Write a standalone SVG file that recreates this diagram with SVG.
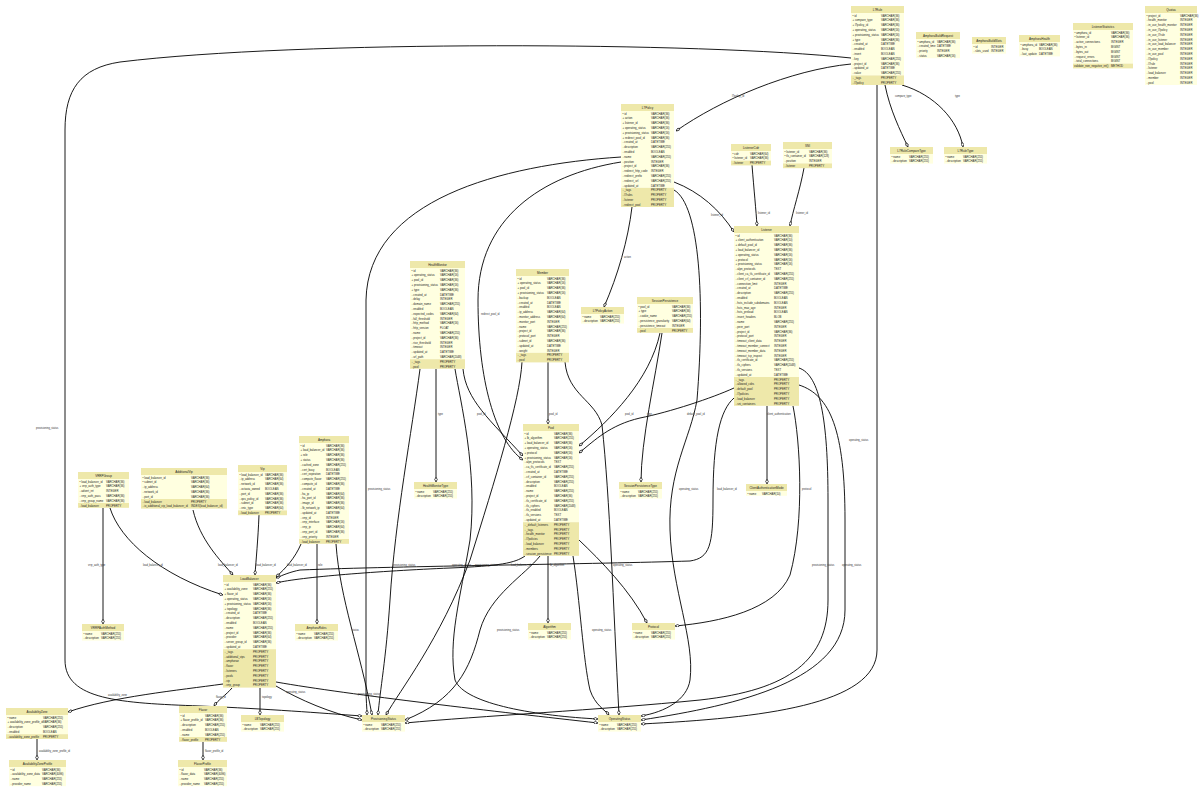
<svg xmlns="http://www.w3.org/2000/svg" width="1200" height="789" viewBox="0 0 1200 789">
<defs>
<style>
.hd{fill:#EEE8AA}
.bd{fill:#FFFFE0}
.pr{fill:#EEE8AA}
text{font-family:"Liberation Sans",Arial,sans-serif;fill:#222}
.tt{font-size:3px;text-anchor:middle}
.r{font-size:2.8px}
.lb{font-size:2.6px;fill:#333}
.e{fill:none;stroke:#000;stroke-width:0.9;marker-end:url(#m)}
</style>
<marker id="m" viewBox="0 0 6 4" refX="6" refY="2" markerWidth="5" markerHeight="3.4" markerUnits="userSpaceOnUse" orient="auto"><path d="M0.4,2 L3,0.4 L5.6,2 L3,3.6 Z" fill="#fff" stroke="#000" stroke-width="0.8"/></marker>
</defs>
<rect width="1200" height="789" fill="#fff"/>

<g id="connectors">
<path class="e" d="M851,58 C700,42 300,40 120,62 C80,68 65,90 65,130 L65,660 C65,700 120,703 200,706 C270,709 320,713 362,716"/>
<path class="e" d="M851,64 C790,70 720,100 676,131"/>
<path class="e" d="M885,85 C890,110 900,130 908,147"/>
<path class="e" d="M902,85 C935,95 958,120 963,147"/>
<path class="e" d="M877,85 L877,650 C877,705 760,718 641,724"/>
<path class="e" d="M674,182 C700,192 720,210 734,232"/>
<path class="e" d="M632,207 C628,240 618,275 604,307"/>
<path class="e" d="M621,162 C540,175 478,220 478,300 C478,380 495,440 523,460"/>
<path class="e" d="M621,157 C500,165 368,200 366,300 L366,690 C366,700 367,708 367,715"/>
<path class="e" d="M674,190 C700,205 705,300 697,400 C690,440 668,470 670,530 C672,590 695,640 690,680 C687,700 665,712 641,716"/>
<path class="e" d="M752,165 C754,190 756,210 757,226"/>
<path class="e" d="M804,168 C800,190 793,210 790,226"/>
<path class="e" d="M420,369 C412,430 395,520 390,600 C386,660 380,690 378,715"/>
<path class="e" d="M436,369 L436,482"/>
<path class="e" d="M455,369 C460,400 478,470 470,540 C460,600 448,640 455,680 C465,705 540,716 598,719"/>
<path class="e" d="M463,369 C466,400 490,420 523,456"/>
<path class="e" d="M522,362 C520,400 495,480 470,560 C440,640 400,690 386,715"/>
<path class="e" d="M548,362 L548,424"/>
<path class="e" d="M565,362 C568,395 595,400 602,425 C610,500 613,600 619,715"/>
<path class="e" d="M660,333 C650,380 610,420 579,446"/>
<path class="e" d="M662,333 C655,380 641,440 641,482"/>
<path class="e" d="M767,406 L767,484"/>
<path class="e" d="M734,388 C712,398 670,412 640,418 C610,425 595,440 579,453"/>
<path class="e" d="M734,398 C720,410 713,440 713,500 C713,545 710,558 690,561 C600,564 400,566 300,570 C290,572 283,575 276,578"/>
<path class="e" d="M793,406 C800,440 805,520 790,575 C775,610 720,622 675,626"/>
<path class="e" d="M799,368 C820,375 828,420 828,500 L828,600 C828,660 790,690 700,700 C600,710 480,716 405,723"/>
<path class="e" d="M799,385 C830,395 845,430 845,520 L845,610 C845,680 740,705 641,720"/>
<path class="e" d="M548,556 L548,623"/>
<path class="e" d="M525,556 C515,563 500,566 450,568 C380,571 300,577 276,583"/>
<path class="e" d="M573,556 C580,600 583,660 590,690 C595,705 605,710 609,715"/>
<path class="e" d="M579,540 C600,560 630,590 647,623"/>
<path class="e" d="M540,556 C525,575 490,595 480,630 C470,670 455,700 405,720"/>
<path class="e" d="M301,544 C295,558 286,568 276,577"/>
<path class="e" d="M317,544 L317,624"/>
<path class="e" d="M336,544 C340,600 360,650 372,715"/>
<path class="e" d="M259,515 C258,540 256,560 255,575"/>
<path class="e" d="M103,508 L103,624"/>
<path class="e" d="M110,508 C120,540 160,575 223,595"/>
<path class="e" d="M193,510 C200,540 220,560 233,575"/>
<path class="e" d="M223,684 C180,690 110,697 68,712"/>
<path class="e" d="M232,688 C226,695 218,700 214,706"/>
<path class="e" d="M260,688 L260,715"/>
<path class="e" d="M276,686 C300,700 330,713 362,720"/>
<path class="e" d="M276,682 C350,695 500,712 598,723"/>
<path class="e" d="M37,739 L37,760"/>
<path class="e" d="M203,742 L203,760"/>
<text class="lb" x="732" y="97">l7policy_id</text>
<text class="lb" x="895" y="97">compare_type</text>
<text class="lb" x="955" y="97">type</text>
<text class="lb" x="711" y="216">listener_id</text>
<text class="lb" x="758" y="214">listener_id</text>
<text class="lb" x="796" y="214">listener_id</text>
<text class="lb" x="624" y="258">action</text>
<text class="lb" x="36" y="429">provisioning_status</text>
<text class="lb" x="849" y="441">operating_status</text>
<text class="lb" x="481" y="315">redirect_pool_id</text>
<text class="lb" x="438" y="415">type</text>
<text class="lb" x="477" y="415">pool_id</text>
<text class="lb" x="549" y="415">pool_id</text>
<text class="lb" x="625" y="415">pool_id</text>
<text class="lb" x="647" y="415">type</text>
<text class="lb" x="687" y="415">default_pool_id</text>
<text class="lb" x="767" y="415">client_authentication</text>
<text class="lb" x="368" y="490">provisioning_status</text>
<text class="lb" x="679" y="490">operating_status</text>
<text class="lb" x="717" y="490">load_balancer_id</text>
<text class="lb" x="802" y="490">protocol</text>
<text class="lb" x="88" y="566">vrrp_auth_type</text>
<text class="lb" x="143" y="566">load_balancer_id</text>
<text class="lb" x="218" y="566">load_balancer_id</text>
<text class="lb" x="256" y="566">load_balancer_id</text>
<text class="lb" x="287" y="566">load_balancer_id</text>
<text class="lb" x="318" y="566">role</text>
<text class="lb" x="393" y="566">provisioning_status</text>
<text class="lb" x="452" y="566">operating_status</text>
<text class="lb" x="475" y="566">provisioning_status</text>
<text class="lb" x="511" y="566">load_balancer_id</text>
<text class="lb" x="550" y="566">lb_algorithm</text>
<text class="lb" x="613" y="566">operating_status</text>
<text class="lb" x="812" y="566">provisioning_status</text>
<text class="lb" x="842" y="566">operating_status</text>
<text class="lb" x="352" y="631">status</text>
<text class="lb" x="497" y="631">provisioning_status</text>
<text class="lb" x="592" y="631">operating_status</text>
<text class="lb" x="108" y="696">availability_zone</text>
<text class="lb" x="216" y="698">flavor_id</text>
<text class="lb" x="262" y="698">topology</text>
<text class="lb" x="286" y="693">operating_status</text>
<text class="lb" x="358" y="695">provisioning_status</text>
<text class="lb" x="39" y="752">availability_zone_profile_id</text>
<text class="lb" x="205" y="752">flavor_profile_id</text>
</g>

<g id="L7Rule" transform="translate(851,6)">
<rect class="hd" width="53" height="7"/><rect class="bd" y="7" width="53" height="62.4"/><rect class="pr" y="69.4" width="53" height="9.6"/>
<text class="tt" x="26.5" y="4.9">L7Rule</text>
<text class="r" y="10.6"><tspan x="1.5">• id</tspan><tspan x="30">VARCHAR(36)</tspan></text>
<text class="r" y="15.4"><tspan x="1.5">+ compare_type</tspan><tspan x="30">VARCHAR(36)</tspan></text>
<text class="r" y="20.2"><tspan x="1.5">+ l7policy_id</tspan><tspan x="30">VARCHAR(36)</tspan></text>
<text class="r" y="25"><tspan x="1.5">+ operating_status</tspan><tspan x="30">VARCHAR(16)</tspan></text>
<text class="r" y="29.8"><tspan x="1.5">+ provisioning_status</tspan><tspan x="30">VARCHAR(16)</tspan></text>
<text class="r" y="34.6"><tspan x="1.5">+ type</tspan><tspan x="30">VARCHAR(36)</tspan></text>
<text class="r" y="39.4"><tspan x="1.5">◦ created_at</tspan><tspan x="30">DATETIME</tspan></text>
<text class="r" y="44.2"><tspan x="1.5">◦ enabled</tspan><tspan x="30">BOOLEAN</tspan></text>
<text class="r" y="49"><tspan x="1.5">◦ invert</tspan><tspan x="30">BOOLEAN</tspan></text>
<text class="r" y="53.8"><tspan x="1.5">◦ key</tspan><tspan x="30">VARCHAR(255)</tspan></text>
<text class="r" y="58.6"><tspan x="1.5">◦ project_id</tspan><tspan x="30">VARCHAR(36)</tspan></text>
<text class="r" y="63.4"><tspan x="1.5">◦ updated_at</tspan><tspan x="30">DATETIME</tspan></text>
<text class="r" y="68.2"><tspan x="1.5">◦ value</tspan><tspan x="30">VARCHAR(255)</tspan></text>
<text class="r" y="73"><tspan x="1.5">◦ _tags</tspan><tspan x="30">PROPERTY</tspan></text>
<text class="r" y="77.8"><tspan x="1.5">◦ l7policy</tspan><tspan x="30">PROPERTY</tspan></text>
</g>

<g id="AmphoraBuildRequest" transform="translate(916,32)">
<rect class="hd" width="44" height="7"/><rect class="bd" y="7" width="44" height="19.2"/>
<text class="tt" x="22" y="4.9">AmphoraBuildRequest</text>
<text class="r" y="10.6"><tspan x="1.5">• amphora_id</tspan><tspan x="21">VARCHAR(36)</tspan></text>
<text class="r" y="15.4"><tspan x="1.5">◦ created_time</tspan><tspan x="21">DATETIME</tspan></text>
<text class="r" y="20.2"><tspan x="1.5">◦ priority</tspan><tspan x="21">INTEGER</tspan></text>
<text class="r" y="25"><tspan x="1.5">◦ status</tspan><tspan x="21">VARCHAR(16)</tspan></text>
</g>

<g id="AmphoraBuildSlots" transform="translate(972,37)">
<rect class="hd" width="34" height="7"/><rect class="bd" y="7" width="34" height="9.6"/>
<text class="tt" x="17" y="4.9">AmphoraBuildSlots</text>
<text class="r" y="10.6"><tspan x="1.5">• id</tspan><tspan x="19">INTEGER</tspan></text>
<text class="r" y="15.4"><tspan x="1.5">◦ slots_used</tspan><tspan x="19">INTEGER</tspan></text>
</g>

<g id="AmphoraHealth" transform="translate(1019,35)">
<rect class="hd" width="41" height="7"/><rect class="bd" y="7" width="41" height="14.4"/>
<text class="tt" x="20.5" y="4.9">AmphoraHealth</text>
<text class="r" y="10.6"><tspan x="1.5">• amphora_id</tspan><tspan x="20">VARCHAR(36)</tspan></text>
<text class="r" y="15.4"><tspan x="1.5">◦ busy</tspan><tspan x="20">BOOLEAN</tspan></text>
<text class="r" y="20.2"><tspan x="1.5">◦ last_update</tspan><tspan x="20">DATETIME</tspan></text>
</g>

<g id="ListenerStatistics" transform="translate(1073,23)">
<rect class="hd" width="60" height="7"/><rect class="bd" y="7" width="60" height="33.6"/><rect class="pr" y="40.6" width="60" height="4.8"/>
<text class="tt" x="30" y="4.9">ListenerStatistics</text>
<text class="r" y="10.6"><tspan x="1.5">• amphora_id</tspan><tspan x="38">VARCHAR(36)</tspan></text>
<text class="r" y="15.4"><tspan x="1.5">• listener_id</tspan><tspan x="38">VARCHAR(36)</tspan></text>
<text class="r" y="20.2"><tspan x="1.5">◦ active_connections</tspan><tspan x="38">INTEGER</tspan></text>
<text class="r" y="25"><tspan x="1.5">◦ bytes_in</tspan><tspan x="38">BIGINT</tspan></text>
<text class="r" y="29.8"><tspan x="1.5">◦ bytes_out</tspan><tspan x="38">BIGINT</tspan></text>
<text class="r" y="34.6"><tspan x="1.5">◦ request_errors</tspan><tspan x="38">BIGINT</tspan></text>
<text class="r" y="39.4"><tspan x="1.5">◦ total_connections</tspan><tspan x="38">BIGINT</tspan></text>
<text class="r" y="44.2"><tspan x="1">validate_non_negative_int()</tspan><tspan x="38">METHOD</tspan></text>
</g>

<g id="Quotas" transform="translate(1145,6)">
<rect class="hd" width="52" height="7"/><rect class="bd" y="7" width="52" height="72"/>
<text class="tt" x="26" y="4.9">Quotas</text>
<text class="r" y="10.6"><tspan x="1.5">• project_id</tspan><tspan x="35">VARCHAR(36)</tspan></text>
<text class="r" y="15.4"><tspan x="1.5">◦ health_monitor</tspan><tspan x="35">INTEGER</tspan></text>
<text class="r" y="20.2"><tspan x="1.5">◦ in_use_health_monitor</tspan><tspan x="35">INTEGER</tspan></text>
<text class="r" y="25"><tspan x="1.5">◦ in_use_l7policy</tspan><tspan x="35">INTEGER</tspan></text>
<text class="r" y="29.8"><tspan x="1.5">◦ in_use_l7rule</tspan><tspan x="35">INTEGER</tspan></text>
<text class="r" y="34.6"><tspan x="1.5">◦ in_use_listener</tspan><tspan x="35">INTEGER</tspan></text>
<text class="r" y="39.4"><tspan x="1.5">◦ in_use_load_balancer</tspan><tspan x="35">INTEGER</tspan></text>
<text class="r" y="44.2"><tspan x="1.5">◦ in_use_member</tspan><tspan x="35">INTEGER</tspan></text>
<text class="r" y="49"><tspan x="1.5">◦ in_use_pool</tspan><tspan x="35">INTEGER</tspan></text>
<text class="r" y="53.8"><tspan x="1.5">◦ l7policy</tspan><tspan x="35">INTEGER</tspan></text>
<text class="r" y="58.6"><tspan x="1.5">◦ l7rule</tspan><tspan x="35">INTEGER</tspan></text>
<text class="r" y="63.4"><tspan x="1.5">◦ listener</tspan><tspan x="35">INTEGER</tspan></text>
<text class="r" y="68.2"><tspan x="1.5">◦ load_balancer</tspan><tspan x="35">INTEGER</tspan></text>
<text class="r" y="73"><tspan x="1.5">◦ member</tspan><tspan x="35">INTEGER</tspan></text>
<text class="r" y="77.8"><tspan x="1.5">◦ pool</tspan><tspan x="35">INTEGER</tspan></text>
</g>

<g id="L7Policy" transform="translate(621,104)">
<rect class="hd" width="53" height="7"/><rect class="bd" y="7" width="53" height="76.8"/><rect class="pr" y="83.8" width="53" height="19.2"/>
<text class="tt" x="26.5" y="4.9">L7Policy</text>
<text class="r" y="10.6"><tspan x="1.5">• id</tspan><tspan x="30">VARCHAR(36)</tspan></text>
<text class="r" y="15.4"><tspan x="1.5">+ action</tspan><tspan x="30">VARCHAR(36)</tspan></text>
<text class="r" y="20.2"><tspan x="1.5">+ listener_id</tspan><tspan x="30">VARCHAR(36)</tspan></text>
<text class="r" y="25"><tspan x="1.5">+ operating_status</tspan><tspan x="30">VARCHAR(16)</tspan></text>
<text class="r" y="29.8"><tspan x="1.5">+ provisioning_status</tspan><tspan x="30">VARCHAR(16)</tspan></text>
<text class="r" y="34.6"><tspan x="1.5">+ redirect_pool_id</tspan><tspan x="30">VARCHAR(36)</tspan></text>
<text class="r" y="39.4"><tspan x="1.5">◦ created_at</tspan><tspan x="30">DATETIME</tspan></text>
<text class="r" y="44.2"><tspan x="1.5">◦ description</tspan><tspan x="30">VARCHAR(255)</tspan></text>
<text class="r" y="49"><tspan x="1.5">◦ enabled</tspan><tspan x="30">BOOLEAN</tspan></text>
<text class="r" y="53.8"><tspan x="1.5">◦ name</tspan><tspan x="30">VARCHAR(255)</tspan></text>
<text class="r" y="58.6"><tspan x="1.5">◦ position</tspan><tspan x="30">INTEGER</tspan></text>
<text class="r" y="63.4"><tspan x="1.5">◦ project_id</tspan><tspan x="30">VARCHAR(36)</tspan></text>
<text class="r" y="68.2"><tspan x="1.5">◦ redirect_http_code</tspan><tspan x="30">INTEGER</tspan></text>
<text class="r" y="73"><tspan x="1.5">◦ redirect_prefix</tspan><tspan x="30">VARCHAR(255)</tspan></text>
<text class="r" y="77.8"><tspan x="1.5">◦ redirect_url</tspan><tspan x="30">VARCHAR(255)</tspan></text>
<text class="r" y="82.6"><tspan x="1.5">◦ updated_at</tspan><tspan x="30">DATETIME</tspan></text>
<text class="r" y="87.4"><tspan x="1.5">◦ _tags</tspan><tspan x="30">PROPERTY</tspan></text>
<text class="r" y="92.2"><tspan x="1.5">◦ l7rules</tspan><tspan x="30">PROPERTY</tspan></text>
<text class="r" y="97"><tspan x="1.5">◦ listener</tspan><tspan x="30">PROPERTY</tspan></text>
<text class="r" y="101.8"><tspan x="1.5">◦ redirect_pool</tspan><tspan x="30">PROPERTY</tspan></text>
</g>

<g id="ListenerCidr" transform="translate(731,144)">
<rect class="hd" width="40" height="7"/><rect class="bd" y="7" width="40" height="9.6"/><rect class="pr" y="16.6" width="40" height="4.8"/>
<text class="tt" x="20" y="4.9">ListenerCidr</text>
<text class="r" y="10.6"><tspan x="1.5">• cidr</tspan><tspan x="19">VARCHAR(64)</tspan></text>
<text class="r" y="15.4"><tspan x="1.5">• listener_id</tspan><tspan x="19">VARCHAR(36)</tspan></text>
<text class="r" y="20.2"><tspan x="1.5">◦ listener</tspan><tspan x="19">PROPERTY</tspan></text>
</g>

<g id="SNI" transform="translate(783,142)">
<rect class="hd" width="49" height="7"/><rect class="bd" y="7" width="49" height="14.4"/><rect class="pr" y="21.4" width="49" height="4.8"/>
<text class="tt" x="24.5" y="4.9">SNI</text>
<text class="r" y="10.6"><tspan x="1.5">• listener_id</tspan><tspan x="26">VARCHAR(36)</tspan></text>
<text class="r" y="15.4"><tspan x="1.5">• tls_container_id</tspan><tspan x="26">VARCHAR(128)</tspan></text>
<text class="r" y="20.2"><tspan x="1.5">◦ position</tspan><tspan x="26">INTEGER</tspan></text>
<text class="r" y="25"><tspan x="1.5">◦ listener</tspan><tspan x="26">PROPERTY</tspan></text>
</g>

<g id="L7RuleCompareType" transform="translate(890,147)">
<rect class="hd" width="43" height="7"/><rect class="bd" y="7" width="43" height="9.6"/>
<text class="tt" x="21.5" y="4.9">L7RuleCompareType</text>
<text class="r" y="10.6"><tspan x="1.5">• name</tspan><tspan x="19">VARCHAR(255)</tspan></text>
<text class="r" y="15.4"><tspan x="1.5">◦ description</tspan><tspan x="19">VARCHAR(255)</tspan></text>
</g>

<g id="L7RuleType" transform="translate(944,147)">
<rect class="hd" width="43" height="7"/><rect class="bd" y="7" width="43" height="9.6"/>
<text class="tt" x="21.5" y="4.9">L7RuleType</text>
<text class="r" y="10.6"><tspan x="1.5">• name</tspan><tspan x="19">VARCHAR(255)</tspan></text>
<text class="r" y="15.4"><tspan x="1.5">◦ description</tspan><tspan x="19">VARCHAR(255)</tspan></text>
</g>

<g id="HealthMonitor" transform="translate(410,261)">
<rect class="hd" width="55" height="7"/><rect class="bd" y="7" width="55" height="91.2"/><rect class="pr" y="98.2" width="55" height="9.6"/>
<text class="tt" x="27.5" y="4.9">HealthMonitor</text>
<text class="r" y="10.6"><tspan x="1.5">• id</tspan><tspan x="30">VARCHAR(36)</tspan></text>
<text class="r" y="15.4"><tspan x="1.5">+ operating_status</tspan><tspan x="30">VARCHAR(16)</tspan></text>
<text class="r" y="20.2"><tspan x="1.5">+ pool_id</tspan><tspan x="30">VARCHAR(36)</tspan></text>
<text class="r" y="25"><tspan x="1.5">+ provisioning_status</tspan><tspan x="30">VARCHAR(16)</tspan></text>
<text class="r" y="29.8"><tspan x="1.5">+ type</tspan><tspan x="30">VARCHAR(36)</tspan></text>
<text class="r" y="34.6"><tspan x="1.5">◦ created_at</tspan><tspan x="30">DATETIME</tspan></text>
<text class="r" y="39.4"><tspan x="1.5">◦ delay</tspan><tspan x="30">INTEGER</tspan></text>
<text class="r" y="44.2"><tspan x="1.5">◦ domain_name</tspan><tspan x="30">VARCHAR(255)</tspan></text>
<text class="r" y="49"><tspan x="1.5">◦ enabled</tspan><tspan x="30">BOOLEAN</tspan></text>
<text class="r" y="53.8"><tspan x="1.5">◦ expected_codes</tspan><tspan x="30">VARCHAR(64)</tspan></text>
<text class="r" y="58.6"><tspan x="1.5">◦ fall_threshold</tspan><tspan x="30">INTEGER</tspan></text>
<text class="r" y="63.4"><tspan x="1.5">◦ http_method</tspan><tspan x="30">VARCHAR(16)</tspan></text>
<text class="r" y="68.2"><tspan x="1.5">◦ http_version</tspan><tspan x="30">FLOAT</tspan></text>
<text class="r" y="73"><tspan x="1.5">◦ name</tspan><tspan x="30">VARCHAR(255)</tspan></text>
<text class="r" y="77.8"><tspan x="1.5">◦ project_id</tspan><tspan x="30">VARCHAR(36)</tspan></text>
<text class="r" y="82.6"><tspan x="1.5">◦ rise_threshold</tspan><tspan x="30">INTEGER</tspan></text>
<text class="r" y="87.4"><tspan x="1.5">◦ timeout</tspan><tspan x="30">INTEGER</tspan></text>
<text class="r" y="92.2"><tspan x="1.5">◦ updated_at</tspan><tspan x="30">DATETIME</tspan></text>
<text class="r" y="97"><tspan x="1.5">◦ url_path</tspan><tspan x="30">VARCHAR(2048)</tspan></text>
<text class="r" y="101.8"><tspan x="1.5">◦ _tags</tspan><tspan x="30">PROPERTY</tspan></text>
<text class="r" y="106.6"><tspan x="1.5">◦ pool</tspan><tspan x="30">PROPERTY</tspan></text>
</g>

<g id="Member" transform="translate(516,269)">
<rect class="hd" width="53" height="7"/><rect class="bd" y="7" width="53" height="76.8"/><rect class="pr" y="83.8" width="53" height="9.6"/>
<text class="tt" x="26.5" y="4.9">Member</text>
<text class="r" y="10.6"><tspan x="1.5">• id</tspan><tspan x="31">VARCHAR(36)</tspan></text>
<text class="r" y="15.4"><tspan x="1.5">+ operating_status</tspan><tspan x="31">VARCHAR(16)</tspan></text>
<text class="r" y="20.2"><tspan x="1.5">+ pool_id</tspan><tspan x="31">VARCHAR(36)</tspan></text>
<text class="r" y="25"><tspan x="1.5">+ provisioning_status</tspan><tspan x="31">VARCHAR(16)</tspan></text>
<text class="r" y="29.8"><tspan x="1.5">◦ backup</tspan><tspan x="31">BOOLEAN</tspan></text>
<text class="r" y="34.6"><tspan x="1.5">◦ created_at</tspan><tspan x="31">DATETIME</tspan></text>
<text class="r" y="39.4"><tspan x="1.5">◦ enabled</tspan><tspan x="31">BOOLEAN</tspan></text>
<text class="r" y="44.2"><tspan x="1.5">◦ ip_address</tspan><tspan x="31">VARCHAR(64)</tspan></text>
<text class="r" y="49"><tspan x="1.5">◦ monitor_address</tspan><tspan x="31">VARCHAR(64)</tspan></text>
<text class="r" y="53.8"><tspan x="1.5">◦ monitor_port</tspan><tspan x="31">INTEGER</tspan></text>
<text class="r" y="58.6"><tspan x="1.5">◦ name</tspan><tspan x="31">VARCHAR(255)</tspan></text>
<text class="r" y="63.4"><tspan x="1.5">◦ project_id</tspan><tspan x="31">VARCHAR(36)</tspan></text>
<text class="r" y="68.2"><tspan x="1.5">◦ protocol_port</tspan><tspan x="31">INTEGER</tspan></text>
<text class="r" y="73"><tspan x="1.5">◦ subnet_id</tspan><tspan x="31">VARCHAR(36)</tspan></text>
<text class="r" y="77.8"><tspan x="1.5">◦ updated_at</tspan><tspan x="31">DATETIME</tspan></text>
<text class="r" y="82.6"><tspan x="1.5">◦ weight</tspan><tspan x="31">INTEGER</tspan></text>
<text class="r" y="87.4"><tspan x="1.5">◦ _tags</tspan><tspan x="31">PROPERTY</tspan></text>
<text class="r" y="92.2"><tspan x="1.5">◦ pool</tspan><tspan x="31">PROPERTY</tspan></text>
</g>

<g id="L7PolicyAction" transform="translate(581,307)">
<rect class="hd" width="43" height="7"/><rect class="bd" y="7" width="43" height="9.6"/>
<text class="tt" x="21.5" y="4.9">L7PolicyAction</text>
<text class="r" y="10.6"><tspan x="1.5">• name</tspan><tspan x="19">VARCHAR(255)</tspan></text>
<text class="r" y="15.4"><tspan x="1.5">◦ description</tspan><tspan x="19">VARCHAR(255)</tspan></text>
</g>

<g id="SessionPersistence" transform="translate(637,297)">
<rect class="hd" width="56" height="7"/><rect class="bd" y="7" width="56" height="24"/><rect class="pr" y="31" width="56" height="4.8"/>
<text class="tt" x="28" y="4.9">SessionPersistence</text>
<text class="r" y="10.6"><tspan x="1.5">• pool_id</tspan><tspan x="35">VARCHAR(36)</tspan></text>
<text class="r" y="15.4"><tspan x="1.5">+ type</tspan><tspan x="35">VARCHAR(36)</tspan></text>
<text class="r" y="20.2"><tspan x="1.5">◦ cookie_name</tspan><tspan x="35">VARCHAR(255)</tspan></text>
<text class="r" y="25"><tspan x="1.5">◦ persistence_granularity</tspan><tspan x="35">VARCHAR(64)</tspan></text>
<text class="r" y="29.8"><tspan x="1.5">◦ persistence_timeout</tspan><tspan x="35">INTEGER</tspan></text>
<text class="r" y="34.6"><tspan x="1.5">◦ pool</tspan><tspan x="35">PROPERTY</tspan></text>
</g>

<g id="Listener" transform="translate(734,226)">
<rect class="hd" width="65" height="7"/><rect class="bd" y="7" width="65" height="144"/><rect class="pr" y="151" width="65" height="28.8"/>
<text class="tt" x="32.5" y="4.9">Listener</text>
<text class="r" y="10.6"><tspan x="1.5">• id</tspan><tspan x="40">VARCHAR(36)</tspan></text>
<text class="r" y="15.4"><tspan x="1.5">+ client_authentication</tspan><tspan x="40">VARCHAR(10)</tspan></text>
<text class="r" y="20.2"><tspan x="1.5">+ default_pool_id</tspan><tspan x="40">VARCHAR(36)</tspan></text>
<text class="r" y="25"><tspan x="1.5">+ load_balancer_id</tspan><tspan x="40">VARCHAR(36)</tspan></text>
<text class="r" y="29.8"><tspan x="1.5">+ operating_status</tspan><tspan x="40">VARCHAR(16)</tspan></text>
<text class="r" y="34.6"><tspan x="1.5">+ protocol</tspan><tspan x="40">VARCHAR(16)</tspan></text>
<text class="r" y="39.4"><tspan x="1.5">+ provisioning_status</tspan><tspan x="40">VARCHAR(16)</tspan></text>
<text class="r" y="44.2"><tspan x="1.5">◦ alpn_protocols</tspan><tspan x="40">TEXT</tspan></text>
<text class="r" y="49"><tspan x="1.5">◦ client_ca_tls_certificate_id</tspan><tspan x="40">VARCHAR(255)</tspan></text>
<text class="r" y="53.8"><tspan x="1.5">◦ client_crl_container_id</tspan><tspan x="40">VARCHAR(255)</tspan></text>
<text class="r" y="58.6"><tspan x="1.5">◦ connection_limit</tspan><tspan x="40">INTEGER</tspan></text>
<text class="r" y="63.4"><tspan x="1.5">◦ created_at</tspan><tspan x="40">DATETIME</tspan></text>
<text class="r" y="68.2"><tspan x="1.5">◦ description</tspan><tspan x="40">VARCHAR(255)</tspan></text>
<text class="r" y="73"><tspan x="1.5">◦ enabled</tspan><tspan x="40">BOOLEAN</tspan></text>
<text class="r" y="77.8"><tspan x="1.5">◦ hsts_include_subdomains</tspan><tspan x="40">BOOLEAN</tspan></text>
<text class="r" y="82.6"><tspan x="1.5">◦ hsts_max_age</tspan><tspan x="40">INTEGER</tspan></text>
<text class="r" y="87.4"><tspan x="1.5">◦ hsts_preload</tspan><tspan x="40">BOOLEAN</tspan></text>
<text class="r" y="92.2"><tspan x="1.5">◦ insert_headers</tspan><tspan x="40">BLOB</tspan></text>
<text class="r" y="97"><tspan x="1.5">◦ name</tspan><tspan x="40">VARCHAR(255)</tspan></text>
<text class="r" y="101.8"><tspan x="1.5">◦ peer_port</tspan><tspan x="40">INTEGER</tspan></text>
<text class="r" y="106.6"><tspan x="1.5">◦ project_id</tspan><tspan x="40">VARCHAR(36)</tspan></text>
<text class="r" y="111.4"><tspan x="1.5">◦ protocol_port</tspan><tspan x="40">INTEGER</tspan></text>
<text class="r" y="116.2"><tspan x="1.5">◦ timeout_client_data</tspan><tspan x="40">INTEGER</tspan></text>
<text class="r" y="121"><tspan x="1.5">◦ timeout_member_connect</tspan><tspan x="40">INTEGER</tspan></text>
<text class="r" y="125.8"><tspan x="1.5">◦ timeout_member_data</tspan><tspan x="40">INTEGER</tspan></text>
<text class="r" y="130.6"><tspan x="1.5">◦ timeout_tcp_inspect</tspan><tspan x="40">INTEGER</tspan></text>
<text class="r" y="135.4"><tspan x="1.5">◦ tls_certificate_id</tspan><tspan x="40">VARCHAR(255)</tspan></text>
<text class="r" y="140.2"><tspan x="1.5">◦ tls_ciphers</tspan><tspan x="40">VARCHAR(2048)</tspan></text>
<text class="r" y="145"><tspan x="1.5">◦ tls_versions</tspan><tspan x="40">TEXT</tspan></text>
<text class="r" y="149.8"><tspan x="1.5">◦ updated_at</tspan><tspan x="40">DATETIME</tspan></text>
<text class="r" y="154.6"><tspan x="1.5">◦ _tags</tspan><tspan x="40">PROPERTY</tspan></text>
<text class="r" y="159.4"><tspan x="1.5">◦ allowed_cidrs</tspan><tspan x="40">PROPERTY</tspan></text>
<text class="r" y="164.2"><tspan x="1.5">◦ default_pool</tspan><tspan x="40">PROPERTY</tspan></text>
<text class="r" y="169"><tspan x="1.5">◦ l7policies</tspan><tspan x="40">PROPERTY</tspan></text>
<text class="r" y="173.8"><tspan x="1.5">◦ load_balancer</tspan><tspan x="40">PROPERTY</tspan></text>
<text class="r" y="178.6"><tspan x="1.5">◦ sni_containers</tspan><tspan x="40">PROPERTY</tspan></text>
</g>

<g id="Pool" transform="translate(523,424)">
<rect class="hd" width="56" height="7"/><rect class="bd" y="7" width="56" height="91.2"/><rect class="pr" y="98.2" width="56" height="33.6"/>
<text class="tt" x="28" y="4.9">Pool</text>
<text class="r" y="10.6"><tspan x="1.5">• id</tspan><tspan x="31">VARCHAR(36)</tspan></text>
<text class="r" y="15.4"><tspan x="1.5">+ lb_algorithm</tspan><tspan x="31">VARCHAR(255)</tspan></text>
<text class="r" y="20.2"><tspan x="1.5">+ load_balancer_id</tspan><tspan x="31">VARCHAR(36)</tspan></text>
<text class="r" y="25"><tspan x="1.5">+ operating_status</tspan><tspan x="31">VARCHAR(16)</tspan></text>
<text class="r" y="29.8"><tspan x="1.5">+ protocol</tspan><tspan x="31">VARCHAR(16)</tspan></text>
<text class="r" y="34.6"><tspan x="1.5">+ provisioning_status</tspan><tspan x="31">VARCHAR(16)</tspan></text>
<text class="r" y="39.4"><tspan x="1.5">◦ alpn_protocols</tspan><tspan x="31">TEXT</tspan></text>
<text class="r" y="44.2"><tspan x="1.5">◦ ca_tls_certificate_id</tspan><tspan x="31">VARCHAR(255)</tspan></text>
<text class="r" y="49"><tspan x="1.5">◦ created_at</tspan><tspan x="31">DATETIME</tspan></text>
<text class="r" y="53.8"><tspan x="1.5">◦ crl_container_id</tspan><tspan x="31">VARCHAR(255)</tspan></text>
<text class="r" y="58.6"><tspan x="1.5">◦ description</tspan><tspan x="31">VARCHAR(255)</tspan></text>
<text class="r" y="63.4"><tspan x="1.5">◦ enabled</tspan><tspan x="31">BOOLEAN</tspan></text>
<text class="r" y="68.2"><tspan x="1.5">◦ name</tspan><tspan x="31">VARCHAR(255)</tspan></text>
<text class="r" y="73"><tspan x="1.5">◦ project_id</tspan><tspan x="31">VARCHAR(36)</tspan></text>
<text class="r" y="77.8"><tspan x="1.5">◦ tls_certificate_id</tspan><tspan x="31">VARCHAR(255)</tspan></text>
<text class="r" y="82.6"><tspan x="1.5">◦ tls_ciphers</tspan><tspan x="31">VARCHAR(2048)</tspan></text>
<text class="r" y="87.4"><tspan x="1.5">◦ tls_enabled</tspan><tspan x="31">BOOLEAN</tspan></text>
<text class="r" y="92.2"><tspan x="1.5">◦ tls_versions</tspan><tspan x="31">TEXT</tspan></text>
<text class="r" y="97"><tspan x="1.5">◦ updated_at</tspan><tspan x="31">DATETIME</tspan></text>
<text class="r" y="101.8"><tspan x="1.5">◦ _default_listeners</tspan><tspan x="31">PROPERTY</tspan></text>
<text class="r" y="106.6"><tspan x="1.5">◦ _tags</tspan><tspan x="31">PROPERTY</tspan></text>
<text class="r" y="111.4"><tspan x="1.5">◦ health_monitor</tspan><tspan x="31">PROPERTY</tspan></text>
<text class="r" y="116.2"><tspan x="1.5">◦ l7policies</tspan><tspan x="31">PROPERTY</tspan></text>
<text class="r" y="121"><tspan x="1.5">◦ load_balancer</tspan><tspan x="31">PROPERTY</tspan></text>
<text class="r" y="125.8"><tspan x="1.5">◦ members</tspan><tspan x="31">PROPERTY</tspan></text>
<text class="r" y="130.6"><tspan x="1.5">◦ session_persistence</tspan><tspan x="31">PROPERTY</tspan></text>
</g>

<g id="Amphora" transform="translate(299,436)">
<rect class="hd" width="50" height="7"/><rect class="bd" y="7" width="50" height="96"/><rect class="pr" y="103" width="50" height="4.8"/>
<text class="tt" x="25" y="4.9">Amphora</text>
<text class="r" y="10.6"><tspan x="1.5">• id</tspan><tspan x="27">VARCHAR(36)</tspan></text>
<text class="r" y="15.4"><tspan x="1.5">+ load_balancer_id</tspan><tspan x="27">VARCHAR(36)</tspan></text>
<text class="r" y="20.2"><tspan x="1.5">+ role</tspan><tspan x="27">VARCHAR(36)</tspan></text>
<text class="r" y="25"><tspan x="1.5">+ status</tspan><tspan x="27">VARCHAR(36)</tspan></text>
<text class="r" y="29.8"><tspan x="1.5">◦ cached_zone</tspan><tspan x="27">VARCHAR(255)</tspan></text>
<text class="r" y="34.6"><tspan x="1.5">◦ cert_busy</tspan><tspan x="27">BOOLEAN</tspan></text>
<text class="r" y="39.4"><tspan x="1.5">◦ cert_expiration</tspan><tspan x="27">DATETIME</tspan></text>
<text class="r" y="44.2"><tspan x="1.5">◦ compute_flavor</tspan><tspan x="27">VARCHAR(255)</tspan></text>
<text class="r" y="49"><tspan x="1.5">◦ compute_id</tspan><tspan x="27">VARCHAR(36)</tspan></text>
<text class="r" y="53.8"><tspan x="1.5">◦ created_at</tspan><tspan x="27">DATETIME</tspan></text>
<text class="r" y="58.6"><tspan x="1.5">◦ ha_ip</tspan><tspan x="27">VARCHAR(64)</tspan></text>
<text class="r" y="63.4"><tspan x="1.5">◦ ha_port_id</tspan><tspan x="27">VARCHAR(36)</tspan></text>
<text class="r" y="68.2"><tspan x="1.5">◦ image_id</tspan><tspan x="27">VARCHAR(36)</tspan></text>
<text class="r" y="73"><tspan x="1.5">◦ lb_network_ip</tspan><tspan x="27">VARCHAR(64)</tspan></text>
<text class="r" y="77.8"><tspan x="1.5">◦ updated_at</tspan><tspan x="27">DATETIME</tspan></text>
<text class="r" y="82.6"><tspan x="1.5">◦ vrrp_id</tspan><tspan x="27">INTEGER</tspan></text>
<text class="r" y="87.4"><tspan x="1.5">◦ vrrp_interface</tspan><tspan x="27">VARCHAR(16)</tspan></text>
<text class="r" y="92.2"><tspan x="1.5">◦ vrrp_ip</tspan><tspan x="27">VARCHAR(64)</tspan></text>
<text class="r" y="97"><tspan x="1.5">◦ vrrp_port_id</tspan><tspan x="27">VARCHAR(36)</tspan></text>
<text class="r" y="101.8"><tspan x="1.5">◦ vrrp_priority</tspan><tspan x="27">INTEGER</tspan></text>
<text class="r" y="106.6"><tspan x="1.5">◦ load_balancer</tspan><tspan x="27">PROPERTY</tspan></text>
</g>

<g id="Vip" transform="translate(238,465)">
<rect class="hd" width="49" height="7"/><rect class="bd" y="7" width="49" height="38.4"/><rect class="pr" y="45.4" width="49" height="4.8"/>
<text class="tt" x="24.5" y="4.9">Vip</text>
<text class="r" y="10.6"><tspan x="1.5">• load_balancer_id</tspan><tspan x="27">VARCHAR(36)</tspan></text>
<text class="r" y="15.4"><tspan x="1.5">◦ ip_address</tspan><tspan x="27">VARCHAR(64)</tspan></text>
<text class="r" y="20.2"><tspan x="1.5">◦ network_id</tspan><tspan x="27">VARCHAR(36)</tspan></text>
<text class="r" y="25"><tspan x="1.5">◦ octavia_owned</tspan><tspan x="27">BOOLEAN</tspan></text>
<text class="r" y="29.8"><tspan x="1.5">◦ port_id</tspan><tspan x="27">VARCHAR(36)</tspan></text>
<text class="r" y="34.6"><tspan x="1.5">◦ qos_policy_id</tspan><tspan x="27">VARCHAR(36)</tspan></text>
<text class="r" y="39.4"><tspan x="1.5">◦ subnet_id</tspan><tspan x="27">VARCHAR(36)</tspan></text>
<text class="r" y="44.2"><tspan x="1.5">◦ vnic_type</tspan><tspan x="27">VARCHAR(64)</tspan></text>
<text class="r" y="49"><tspan x="1.5">◦ load_balancer</tspan><tspan x="27">PROPERTY</tspan></text>
</g>

<g id="HealthMonitorType" transform="translate(414,482)">
<rect class="hd" width="43" height="7"/><rect class="bd" y="7" width="43" height="9.6"/>
<text class="tt" x="21.5" y="4.9">HealthMonitorType</text>
<text class="r" y="10.6"><tspan x="1.5">• name</tspan><tspan x="19">VARCHAR(255)</tspan></text>
<text class="r" y="15.4"><tspan x="1.5">◦ description</tspan><tspan x="19">VARCHAR(255)</tspan></text>
</g>

<g id="SessionPersistenceType" transform="translate(619,482)">
<rect class="hd" width="43" height="7"/><rect class="bd" y="7" width="43" height="9.6"/>
<text class="tt" x="21.5" y="4.9">SessionPersistenceType</text>
<text class="r" y="10.6"><tspan x="1.5">• name</tspan><tspan x="19">VARCHAR(255)</tspan></text>
<text class="r" y="15.4"><tspan x="1.5">◦ description</tspan><tspan x="19">VARCHAR(255)</tspan></text>
</g>

<g id="ClientAuthenticationMode" transform="translate(746,484)">
<rect class="hd" width="41" height="7"/><rect class="bd" y="7" width="41" height="4.8"/>
<text class="tt" x="20.5" y="4.9">ClientAuthenticationMode</text>
<text class="r" y="10.6"><tspan x="1.5">• name</tspan><tspan x="16">VARCHAR(10)</tspan></text>
</g>

<g id="VRRPGroup" transform="translate(78,472)">
<rect class="hd" width="51" height="7"/><rect class="bd" y="7" width="51" height="24"/><rect class="pr" y="31" width="51" height="4.8"/>
<text class="tt" x="25.5" y="4.9">VRRPGroup</text>
<text class="r" y="10.6"><tspan x="1.5">• load_balancer_id</tspan><tspan x="28">VARCHAR(36)</tspan></text>
<text class="r" y="15.4"><tspan x="1.5">+ vrrp_auth_type</tspan><tspan x="28">VARCHAR(36)</tspan></text>
<text class="r" y="20.2"><tspan x="1.5">◦ advert_int</tspan><tspan x="28">INTEGER</tspan></text>
<text class="r" y="25"><tspan x="1.5">◦ vrrp_auth_pass</tspan><tspan x="28">VARCHAR(36)</tspan></text>
<text class="r" y="29.8"><tspan x="1.5">◦ vrrp_group_name</tspan><tspan x="28">VARCHAR(36)</tspan></text>
<text class="r" y="34.6"><tspan x="1.5">◦ load_balancer</tspan><tspan x="28">PROPERTY</tspan></text>
</g>

<g id="AdditionalVip" transform="translate(141,468)">
<rect class="hd" width="86" height="7"/><rect class="bd" y="7" width="86" height="24"/><rect class="pr" y="31" width="86" height="9.6"/>
<text class="tt" x="43" y="4.9">AdditionalVip</text>
<text class="r" y="10.6"><tspan x="1.5">• load_balancer_id</tspan><tspan x="50">VARCHAR(36)</tspan></text>
<text class="r" y="15.4"><tspan x="1.5">• subnet_id</tspan><tspan x="50">VARCHAR(36)</tspan></text>
<text class="r" y="20.2"><tspan x="1.5">◦ ip_address</tspan><tspan x="50">VARCHAR(64)</tspan></text>
<text class="r" y="25"><tspan x="1.5">◦ network_id</tspan><tspan x="50">VARCHAR(36)</tspan></text>
<text class="r" y="29.8"><tspan x="1.5">◦ port_id</tspan><tspan x="50">VARCHAR(36)</tspan></text>
<text class="r" y="34.6"><tspan x="1.5">◦ load_balancer</tspan><tspan x="50">PROPERTY</tspan></text>
<text class="r" y="39.4"><tspan x="1.5">◦ ix_additional_vip_load_balancer_id</tspan><tspan x="50">INDEX(load_balancer_id)</tspan></text>
</g>

<g id="LoadBalancer" transform="translate(223,575)">
<rect class="hd" width="53" height="7"/><rect class="bd" y="7" width="53" height="67.2"/><rect class="pr" y="74.2" width="53" height="38.4"/>
<text class="tt" x="26.5" y="4.9">LoadBalancer</text>
<text class="r" y="10.6"><tspan x="1.5">• id</tspan><tspan x="30">VARCHAR(36)</tspan></text>
<text class="r" y="15.4"><tspan x="1.5">+ availability_zone</tspan><tspan x="30">VARCHAR(255)</tspan></text>
<text class="r" y="20.2"><tspan x="1.5">+ flavor_id</tspan><tspan x="30">VARCHAR(36)</tspan></text>
<text class="r" y="25"><tspan x="1.5">+ operating_status</tspan><tspan x="30">VARCHAR(16)</tspan></text>
<text class="r" y="29.8"><tspan x="1.5">+ provisioning_status</tspan><tspan x="30">VARCHAR(16)</tspan></text>
<text class="r" y="34.6"><tspan x="1.5">+ topology</tspan><tspan x="30">VARCHAR(36)</tspan></text>
<text class="r" y="39.4"><tspan x="1.5">◦ created_at</tspan><tspan x="30">DATETIME</tspan></text>
<text class="r" y="44.2"><tspan x="1.5">◦ description</tspan><tspan x="30">VARCHAR(255)</tspan></text>
<text class="r" y="49"><tspan x="1.5">◦ enabled</tspan><tspan x="30">BOOLEAN</tspan></text>
<text class="r" y="53.8"><tspan x="1.5">◦ name</tspan><tspan x="30">VARCHAR(255)</tspan></text>
<text class="r" y="58.6"><tspan x="1.5">◦ project_id</tspan><tspan x="30">VARCHAR(36)</tspan></text>
<text class="r" y="63.4"><tspan x="1.5">◦ provider</tspan><tspan x="30">VARCHAR(64)</tspan></text>
<text class="r" y="68.2"><tspan x="1.5">◦ server_group_id</tspan><tspan x="30">VARCHAR(36)</tspan></text>
<text class="r" y="73"><tspan x="1.5">◦ updated_at</tspan><tspan x="30">DATETIME</tspan></text>
<text class="r" y="77.8"><tspan x="1.5">◦ _tags</tspan><tspan x="30">PROPERTY</tspan></text>
<text class="r" y="82.6"><tspan x="1.5">◦ additional_vips</tspan><tspan x="30">PROPERTY</tspan></text>
<text class="r" y="87.4"><tspan x="1.5">◦ amphorae</tspan><tspan x="30">PROPERTY</tspan></text>
<text class="r" y="92.2"><tspan x="1.5">◦ flavor</tspan><tspan x="30">PROPERTY</tspan></text>
<text class="r" y="97"><tspan x="1.5">◦ listeners</tspan><tspan x="30">PROPERTY</tspan></text>
<text class="r" y="101.8"><tspan x="1.5">◦ pools</tspan><tspan x="30">PROPERTY</tspan></text>
<text class="r" y="106.6"><tspan x="1.5">◦ vip</tspan><tspan x="30">PROPERTY</tspan></text>
<text class="r" y="111.4"><tspan x="1.5">◦ vrrp_group</tspan><tspan x="30">PROPERTY</tspan></text>
</g>

<g id="VRRPAuthMethod" transform="translate(82,624)">
<rect class="hd" width="42" height="7"/><rect class="bd" y="7" width="42" height="9.6"/>
<text class="tt" x="21" y="4.9">VRRPAuthMethod</text>
<text class="r" y="10.6"><tspan x="1.5">• name</tspan><tspan x="19">VARCHAR(255)</tspan></text>
<text class="r" y="15.4"><tspan x="1.5">◦ description</tspan><tspan x="19">VARCHAR(255)</tspan></text>
</g>

<g id="AmphoraRoles" transform="translate(295,624)">
<rect class="hd" width="43" height="7"/><rect class="bd" y="7" width="43" height="9.6"/>
<text class="tt" x="21.5" y="4.9">AmphoraRoles</text>
<text class="r" y="10.6"><tspan x="1.5">• name</tspan><tspan x="19">VARCHAR(255)</tspan></text>
<text class="r" y="15.4"><tspan x="1.5">◦ description</tspan><tspan x="19">VARCHAR(255)</tspan></text>
</g>

<g id="Algorithm" transform="translate(528,623)">
<rect class="hd" width="43" height="7"/><rect class="bd" y="7" width="43" height="9.6"/>
<text class="tt" x="21.5" y="4.9">Algorithm</text>
<text class="r" y="10.6"><tspan x="1.5">• name</tspan><tspan x="19">VARCHAR(255)</tspan></text>
<text class="r" y="15.4"><tspan x="1.5">◦ description</tspan><tspan x="19">VARCHAR(255)</tspan></text>
</g>

<g id="Protocol" transform="translate(632,623)">
<rect class="hd" width="43" height="7"/><rect class="bd" y="7" width="43" height="9.6"/>
<text class="tt" x="21.5" y="4.9">Protocol</text>
<text class="r" y="10.6"><tspan x="1.5">• name</tspan><tspan x="19">VARCHAR(255)</tspan></text>
<text class="r" y="15.4"><tspan x="1.5">◦ description</tspan><tspan x="19">VARCHAR(255)</tspan></text>
</g>

<g id="OperatingStatus" transform="translate(598,715)">
<rect class="hd" width="43" height="7"/><rect class="bd" y="7" width="43" height="9.6"/>
<text class="tt" x="21.5" y="4.9">OperatingStatus</text>
<text class="r" y="10.6"><tspan x="1.5">• name</tspan><tspan x="19">VARCHAR(255)</tspan></text>
<text class="r" y="15.4"><tspan x="1.5">◦ description</tspan><tspan x="19">VARCHAR(255)</tspan></text>
</g>

<g id="ProvisioningStatus" transform="translate(362,715)">
<rect class="hd" width="43" height="7"/><rect class="bd" y="7" width="43" height="9.6"/>
<text class="tt" x="21.5" y="4.9">ProvisioningStatus</text>
<text class="r" y="10.6"><tspan x="1.5">• name</tspan><tspan x="19">VARCHAR(255)</tspan></text>
<text class="r" y="15.4"><tspan x="1.5">◦ description</tspan><tspan x="19">VARCHAR(255)</tspan></text>
</g>

<g id="LBTopology" transform="translate(241,715)">
<rect class="hd" width="43" height="7"/><rect class="bd" y="7" width="43" height="9.6"/>
<text class="tt" x="21.5" y="4.9">LBTopology</text>
<text class="r" y="10.6"><tspan x="1.5">• name</tspan><tspan x="19">VARCHAR(255)</tspan></text>
<text class="r" y="15.4"><tspan x="1.5">◦ description</tspan><tspan x="19">VARCHAR(255)</tspan></text>
</g>

<g id="AvailabilityZone" transform="translate(6,708)">
<rect class="hd" width="62" height="7"/><rect class="bd" y="7" width="62" height="19.2"/><rect class="pr" y="26.2" width="62" height="4.8"/>
<text class="tt" x="31" y="4.9">AvailabilityZone</text>
<text class="r" y="10.6"><tspan x="1.5">• name</tspan><tspan x="37">VARCHAR(255)</tspan></text>
<text class="r" y="15.4"><tspan x="1.5">+ availability_zone_profile_id</tspan><tspan x="37">VARCHAR(36)</tspan></text>
<text class="r" y="20.2"><tspan x="1.5">◦ description</tspan><tspan x="37">VARCHAR(255)</tspan></text>
<text class="r" y="25"><tspan x="1.5">◦ enabled</tspan><tspan x="37">BOOLEAN</tspan></text>
<text class="r" y="29.8"><tspan x="1.5">◦ availability_zone_profile</tspan><tspan x="37">PROPERTY</tspan></text>
</g>

<g id="AvailabilityZoneProfile" transform="translate(9,760)">
<rect class="hd" width="57" height="7"/><rect class="bd" y="7" width="57" height="19.2"/>
<text class="tt" x="28.5" y="4.9">AvailabilityZoneProfile</text>
<text class="r" y="10.6"><tspan x="1.5">• id</tspan><tspan x="33">VARCHAR(36)</tspan></text>
<text class="r" y="15.4"><tspan x="1.5">◦ availability_zone_data</tspan><tspan x="33">VARCHAR(4096)</tspan></text>
<text class="r" y="20.2"><tspan x="1.5">◦ name</tspan><tspan x="33">VARCHAR(255)</tspan></text>
<text class="r" y="25"><tspan x="1.5">◦ provider_name</tspan><tspan x="33">VARCHAR(255)</tspan></text>
</g>

<g id="Flavor" transform="translate(179,706)">
<rect class="hd" width="48" height="7"/><rect class="bd" y="7" width="48" height="24"/><rect class="pr" y="31" width="48" height="4.8"/>
<text class="tt" x="24" y="4.9">Flavor</text>
<text class="r" y="10.6"><tspan x="1.5">• id</tspan><tspan x="26">VARCHAR(36)</tspan></text>
<text class="r" y="15.4"><tspan x="1.5">+ flavor_profile_id</tspan><tspan x="26">VARCHAR(36)</tspan></text>
<text class="r" y="20.2"><tspan x="1.5">◦ description</tspan><tspan x="26">VARCHAR(255)</tspan></text>
<text class="r" y="25"><tspan x="1.5">◦ enabled</tspan><tspan x="26">BOOLEAN</tspan></text>
<text class="r" y="29.8"><tspan x="1.5">◦ name</tspan><tspan x="26">VARCHAR(255)</tspan></text>
<text class="r" y="34.6"><tspan x="1.5">◦ flavor_profile</tspan><tspan x="26">PROPERTY</tspan></text>
</g>

<g id="FlavorProfile" transform="translate(178,760)">
<rect class="hd" width="49" height="7"/><rect class="bd" y="7" width="49" height="19.2"/>
<text class="tt" x="24.5" y="4.9">FlavorProfile</text>
<text class="r" y="10.6"><tspan x="1.5">• id</tspan><tspan x="26">VARCHAR(36)</tspan></text>
<text class="r" y="15.4"><tspan x="1.5">◦ flavor_data</tspan><tspan x="26">VARCHAR(4096)</tspan></text>
<text class="r" y="20.2"><tspan x="1.5">◦ name</tspan><tspan x="26">VARCHAR(255)</tspan></text>
<text class="r" y="25"><tspan x="1.5">◦ provider_name</tspan><tspan x="26">VARCHAR(255)</tspan></text>
</g>
</svg>
